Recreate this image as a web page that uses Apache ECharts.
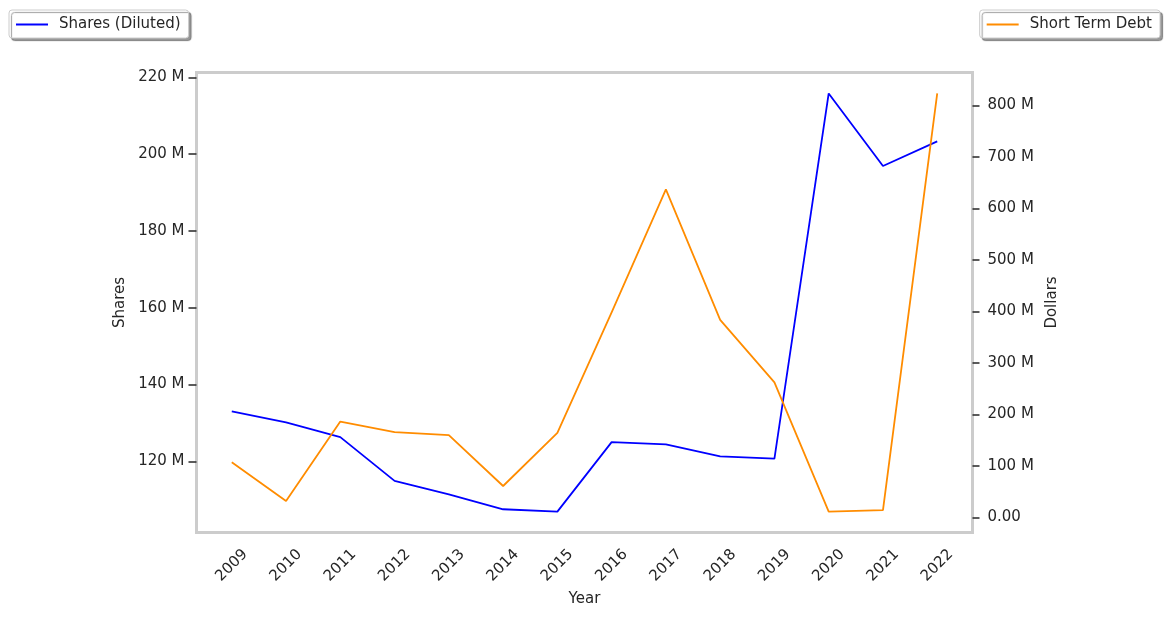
<!DOCTYPE html>
<html>
<head>
<meta charset="utf-8">
<script src="https://cdn.jsdelivr.net/npm/echarts@6/dist/echarts.min.js"></script>
<style>
  html, body { margin: 0; padding: 0; background: #fff; }
  #chart { width: 1169px; height: 618px; }
</style>
</head>
<body>
<div id="chart"></div>
<script>
const years = [2009, 2010, 2011, 2012, 2013, 2014, 2015, 2016, 2017, 2018, 2019, 2020, 2021, 2022];
// millions of shares
const sharesDiluted = [133.0, 130.1, 126.3, 114.9, 111.4, 107.5, 106.9, 125.0, 124.4, 121.3, 120.7, 215.8, 196.9, 203.3];
// millions of dollars
const shortTermDebt = [106.8, 31.9, 186.0, 165.4, 159.6, 60.9, 164.0, 398.0, 636.7, 383.4, 262.0, 11.2, 13.9, 823.0];
const sharesTicks = [120, 140, 160, 180, 200, 220];
const debtTicks = [0, 100, 200, 300, 400, 500, 600, 700, 800];

const FONT = 'DejaVu Sans';
const TXT = '#262626';

const chart = echarts.init(document.getElementById('chart'), null, { renderer: 'canvas' });

const legendCommon = {
  orient: 'horizontal',
  top: 10,
  padding: [7, 8, 6, 7],
  backgroundColor: '#ffffff',
  borderColor: '#cccccc',
  borderWidth: 1,
  borderRadius: 3,
  shadowColor: 'rgba(0,0,0,0.4)',
  shadowBlur: 1,
  shadowOffsetX: 2.5,
  shadowOffsetY: 2.5,
  icon: 'rect',
  itemWidth: 32,
  itemHeight: 2,
  itemGap: 10,
  textStyle: { fontFamily: FONT, fontSize: 15, color: TXT, padding: [0, 0, 0, 6] }
};

chart.setOption({
  animation: false,
  backgroundColor: '#ffffff',
  textStyle: { fontFamily: FONT },
  grid: {
    left: 196.5, right: 196.5, top: 72.5, bottom: 85.5,
    show: true, borderColor: '#cccccc', borderWidth: 3, backgroundColor: 'transparent'
  },
  legend: [
    Object.assign({}, legendCommon, { left: 9, data: ['Shares (Diluted)'] }),
    Object.assign({}, legendCommon, { right: 9, data: ['Short Term Debt'] })
  ],
  xAxis: {
    type: 'value',
    min: 2008.35,
    max: 2022.65,
    name: 'Year',
    nameLocation: 'middle',
    nameGap: 55,
    nameTextStyle: { fontFamily: FONT, fontSize: 15, color: TXT },
    axisLine: { show: false },
    axisTick: { show: false },
    splitLine: { show: false },
    axisLabel: {
      customValues: years,
      formatter: v => String(v),
      rotate: 45,
      align: 'center',
      verticalAlign: 'middle',
      margin: 33,
      fontFamily: FONT, fontSize: 15, color: TXT
    }
  },
  yAxis: [
    {
      type: 'value',
      position: 'left',
      min: 101.45,
      max: 221.25,
      name: 'Shares',
      nameLocation: 'middle',
      nameGap: 63,
      nameRotate: 90,
      nameTextStyle: { fontFamily: FONT, fontSize: 15, color: TXT },
      axisLine: { show: false },
      splitLine: { show: false },
      axisTick: { show: true, customValues: sharesTicks, length: 8, inside: false,
                  lineStyle: { color: TXT, width: 1.5 } },
      axisLabel: { customValues: sharesTicks, formatter: v => v + ' M', margin: 12,
                   fontFamily: FONT, fontSize: 15, color: TXT }
    },
    {
      type: 'value',
      position: 'right',
      min: -29.4,
      max: 863.6,
      name: 'Dollars',
      nameLocation: 'middle',
      nameGap: 61,
      nameRotate: 90,
      nameTextStyle: { fontFamily: FONT, fontSize: 15, color: TXT },
      axisLine: { show: false },
      splitLine: { show: false },
      axisTick: { show: true, customValues: debtTicks, length: 7, inside: false,
                  lineStyle: { color: TXT, width: 1.5 } },
      axisLabel: { customValues: debtTicks, formatter: v => (v === 0 ? '0.00' : v + ' M'), margin: 15,
                   fontFamily: FONT, fontSize: 15, color: TXT }
    }
  ],
  series: [
    {
      name: 'Shares (Diluted)',
      type: 'line',
      yAxisIndex: 0,
      symbol: 'none',
      color: '#0000ff',
      lineStyle: { color: '#0000ff', width: 1.8 },
      data: years.map((y, i) => [y, sharesDiluted[i]])
    },
    {
      name: 'Short Term Debt',
      type: 'line',
      yAxisIndex: 1,
      symbol: 'none',
      color: '#ff8c00',
      lineStyle: { color: '#ff8c00', width: 1.8 },
      data: years.map((y, i) => [y, shortTermDebt[i]])
    }
  ]
});
</script>
</body>
</html>
